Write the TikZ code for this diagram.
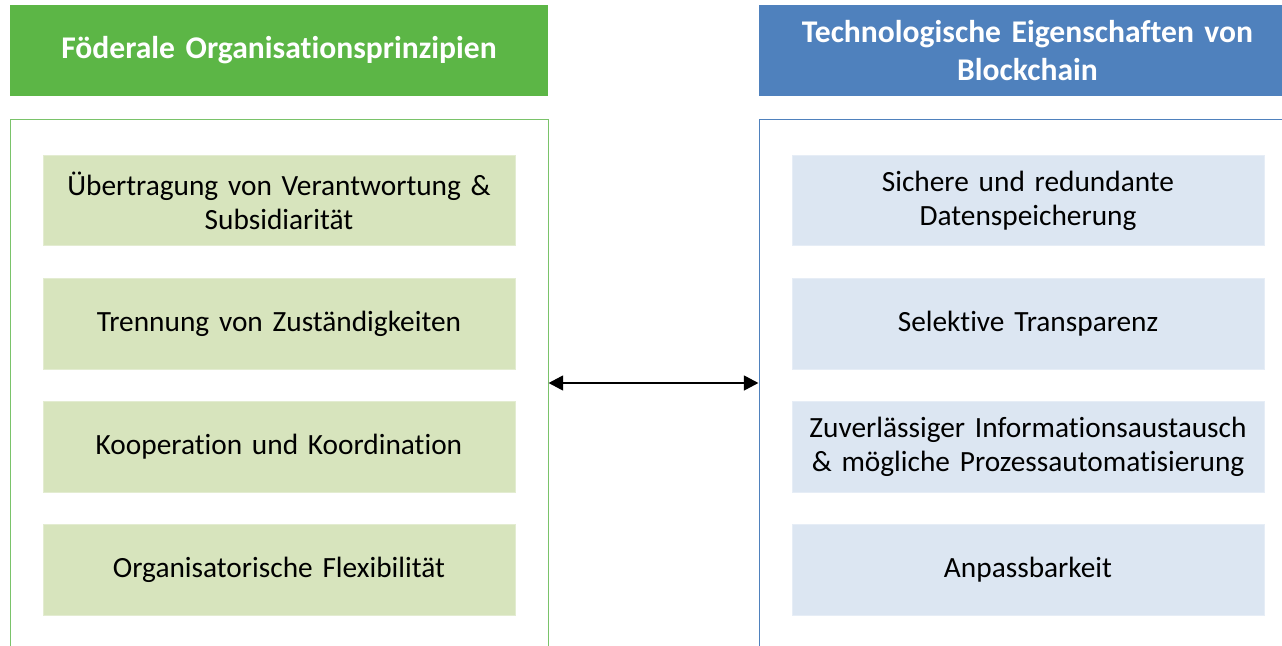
\documentclass[tikz,border=0pt]{standalone}
\usepackage{fontspec}
\setmainfont{Carlito}[WordSpace=0.8, Ligatures=NoCommon]
\usetikzlibrary{arrows.meta}
\definecolor{hgreen}{HTML}{5CB646}
\definecolor{hblue}{HTML}{4F81BD}
\definecolor{cgreen}{HTML}{7AC36A}
\definecolor{cblue}{HTML}{4F81BD}
\definecolor{fgreen}{HTML}{D7E4BD}
\definecolor{fblue}{HTML}{DCE6F2}
\tikzset{
  header/.style={inner sep=0pt, minimum width=403.5pt, minimum height=68.25pt, text=white, font=\fontsize{23.7}{29}\selectfont\bfseries, align=center, text width=380pt},
  container/.style={inner sep=0pt, fill=white, line width=0.75pt},
  itembox/.style={inner sep=0pt, minimum width=354pt, minimum height=68pt, font=\fontsize{22}{25.5}\selectfont, align=center, text width=350pt, line width=0.75pt},
  link/.style={line width=2pt, {Triangle[length=11pt,width=11pt]}-{Triangle[length=11pt,width=11pt]}}
}
\begin{document}
\begin{tikzpicture}[x=0.75pt,y=-0.75pt]
\useasboundingbox (0,0) rectangle (1282,646);
\fill[white] (0,0) rectangle (1282,646);
% headers
\node[header, fill=hgreen] (hl) at (279,50.5) {Föderale Organisationsprinzipien};
\node[header, fill=hblue, minimum width=402.75pt] (hr) at (1027.5,50.5) {Technologische Eigenschaften von\\Blockchain};
% containers
\node[container, draw=cgreen, minimum width=403.5pt, minimum height=396pt] (cl) at (279,383) {};
\node[container, draw=cblue, minimum width=398.25pt, minimum height=396pt] (cr) at (1024.5,383) {};
% left items
\node[itembox, fill=fgreen, draw=fgreen!70!white] (l1) at (279,200.5) {Übertragung von Verantwortung \&\\Subsidiarität};
\node[itembox, fill=fgreen, draw=fgreen!70!white] (l2) at (279,324) {Trennung von Zuständigkeiten};
\node[itembox, fill=fgreen, draw=fgreen!70!white] (l3) at (279,447) {Kooperation und Koordination};
\node[itembox, fill=fgreen, draw=fgreen!70!white] (l4) at (279,570) {Organisatorische Flexibilität};
% right items
\node[itembox, fill=fblue, draw=fblue!70!white] (r1) at (1028,200.5) {Sichere und redundante\\Datenspeicherung};
\node[itembox, fill=fblue, draw=fblue!70!white] (r2) at (1028,324) {Selektive Transparenz};
\node[itembox, fill=fblue, draw=fblue!70!white] (r3) at (1028,447) {Zuverlässiger Informationsaustausch\\\& mögliche Prozessautomatisierung};
\node[itembox, fill=fblue, draw=fblue!70!white] (r4) at (1028,570) {Anpassbarkeit};
% arrow
\draw[link] (cl.east) -- (cr.west);
\end{tikzpicture}
\end{document}
